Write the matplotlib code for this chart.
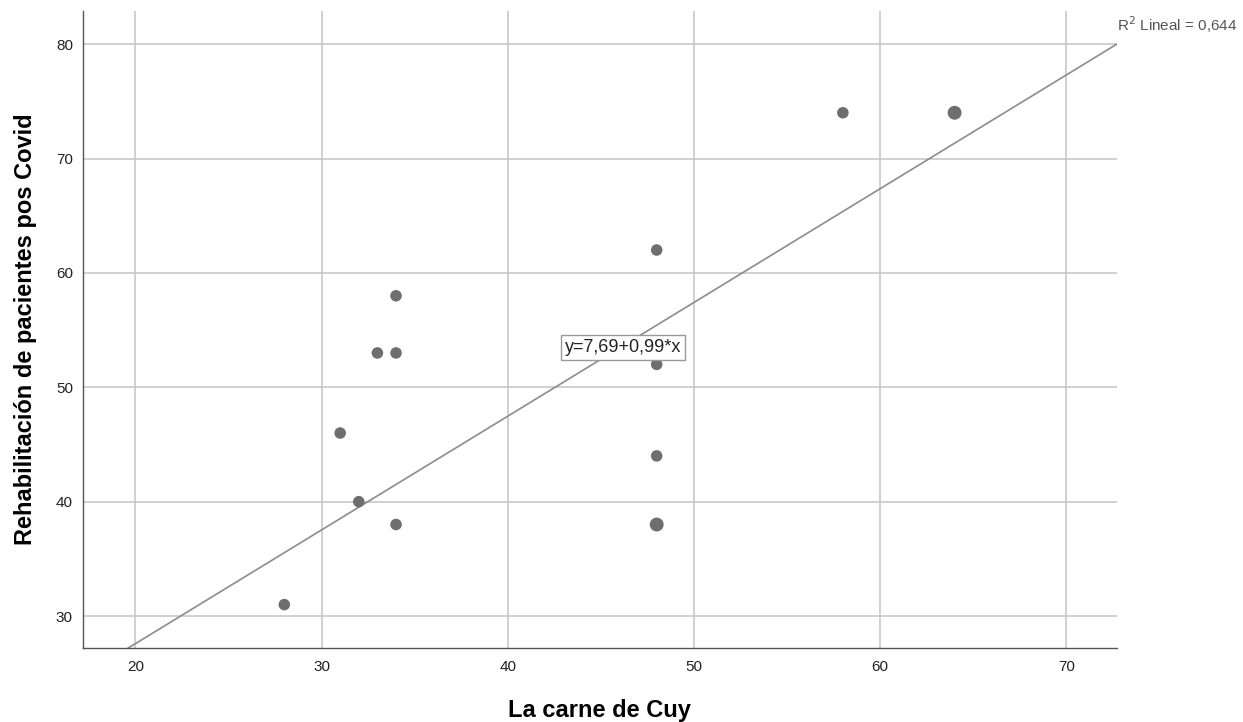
import matplotlib
matplotlib.use("Agg")
import matplotlib.pyplot as plt
import numpy as np

x_vals = [28, 31, 32, 33, 34, 34, 34, 48, 48, 48, 48, 58, 64]
y_vals = [31, 46, 40, 53, 58, 53, 38, 62, 52, 44, 38, 74, 74]
counts = [1, 1, 1, 1, 1, 1, 1, 1, 1, 1, 2, 1, 2]
intercept = 7.69
slope = 0.9945
r2_text = "R$^2$ Lineal = 0,644"
eq_text = "y=7,69+0,99*x"
x_label = "La carne de Cuy"
y_label = "Rehabilitación de pacientes pos Covid"
x_ticks = [20, 30, 40, 50, 60, 70]
y_ticks = [30, 40, 50, 60, 70, 80]

plt.rcParams['font.family'] = ['Liberation Sans', 'DejaVu Sans']
fig = plt.figure(figsize=(12.43, 7.22), dpi=100)
ax = fig.add_axes([0.0665, 0.1029, 0.8318, 0.8819])
xlim = (17.17, 72.7)
ylim = (27.23, 82.9)
ax.set_xlim(*xlim)
ax.set_ylim(*ylim)

ax.set_xticks(x_ticks)
ax.set_yticks(y_ticks)
ax.grid(True, color='#c8c8c8', linewidth=1.2)
ax.set_axisbelow(True)
for s in ['top', 'right']:
    ax.spines[s].set_visible(False)
for s in ['left', 'bottom']:
    ax.spines[s].set_color('#555555')
    ax.spines[s].set_linewidth(1.0)
ax.tick_params(length=0, labelsize=11, colors='#222222')
ax.tick_params(axis='y', pad=7)
ax.tick_params(axis='x', pad=9)

sizes = [69 if c == 1 else 100 for c in counts]
ax.scatter(x_vals, y_vals, s=sizes, color='#6e6e6e', zorder=3, linewidths=0)

xl = np.array(xlim)
ax.plot(xl, intercept + slope * xl, color='#8c8c8c', linewidth=1.2, zorder=2, clip_on=True)

ax.text(46.19, 53.44, eq_text, ha='center', va='center', fontsize=13, color='#222222',
        bbox=dict(boxstyle='square,pad=0.22', facecolor='white', edgecolor='#999999', linewidth=1), zorder=4)

fig.text(0.8986, 0.9654, r2_text, ha='left', va='center', fontsize=11, color='#555555')

ax.set_xlabel(x_label, fontsize=17, fontweight='bold')
ax.set_ylabel(y_label, fontsize=17, fontweight='bold')
ax.xaxis.set_label_coords(0.5, -0.08)
ax.yaxis.set_label_coords(-0.044, 0.5)

fig.savefig('out.png', dpi=100, facecolor='white')
